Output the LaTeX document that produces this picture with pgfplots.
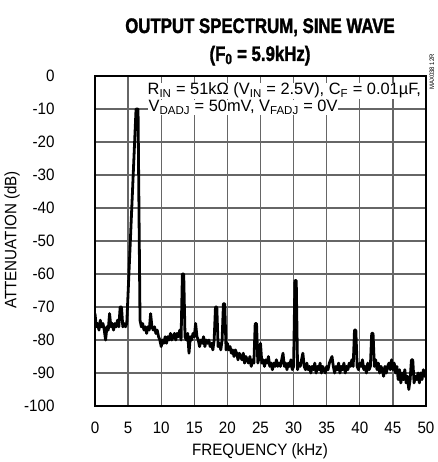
\documentclass[border=0pt]{standalone}
\usepackage{fontspec}
\setmainfont{Liberation Sans}
\newfontfamily\titlefont{Liberation Sans}[FakeStretch=0.8, BoldFeatures={FakeBold=1.5}]
\newfontfamily\condfont{Liberation Sans}[FakeStretch=0.92]
\usepackage{pgfplots}
\pgfplotsset{compat=1.18}
\usepackage{pgfplotstable}

\pgfplotstableread{
f a
0.0 -72
0.2 -76
0.4 -75
0.6 -77
0.8 -74
1.0 -76
1.2 -75
1.4 -77
1.6 -80
1.8 -76
2.0 -77
2.2 -72
2.4 -76
2.6 -75
2.8 -77
3.0 -75
3.2 -76
3.4 -74
3.6 -76
3.8 -70
4.0 -70
4.2 -76
4.4 -75
4.6 -76
4.8 -75
6.2 -10
6.5 -10
6.8 -74
7.0 -76
7.2 -75
7.4 -77
7.6 -76
7.8 -78
8.0 -76
8.2 -77
8.4 -72
8.6 -76
8.8 -77
9.0 -76
9.2 -78
9.4 -77
9.6 -79
9.8 -80
10.0 -82
10.2 -80
10.4 -81
10.6 -79
10.8 -81
11.0 -79
11.2 -80
11.4 -78
11.6 -80
11.8 -79
12.0 -78
12.2 -80
12.4 -78
12.6 -79
12.8 -77
13.0 -80
13.2 -60
13.4 -60
13.6 -79
13.8 -80
14.0 -78
14.2 -84
14.4 -79
14.6 -80
14.8 -78
15.0 -79
15.2 -75
15.4 -79
15.6 -80
15.8 -82
16.0 -80
16.2 -81
16.4 -79
16.6 -82
16.8 -80
17.0 -81
17.2 -80
17.4 -82
17.6 -81
17.8 -83
18.0 -80
18.2 -70
18.4 -70
18.6 -82
18.8 -81
19.0 -83
19.2 -80
19.4 -69
19.6 -69
19.8 -83
20.0 -81
20.2 -83
20.4 -82
20.6 -84
20.8 -83
21.0 -85
21.2 -83
21.4 -84
21.6 -86
21.8 -84
22.0 -85
22.2 -86
22.4 -84
22.6 -87
22.8 -85
23.0 -86
23.2 -87
23.4 -85
23.6 -88
23.8 -86
24.0 -87
24.2 -75
24.4 -75
24.6 -87
24.8 -85
25.0 -81
25.2 -87
25.4 -86
25.6 -88
25.8 -86
26.0 -87
26.2 -85
26.4 -88
26.6 -87
26.8 -89
27.0 -87
27.2 -88
27.4 -86
27.6 -88
27.8 -87
28.0 -88
28.2 -86
28.4 -84
28.6 -88
28.8 -87
29.0 -89
29.2 -87
29.4 -88
29.6 -86
29.8 -89
30.0 -88
30.2 -62
30.4 -62
30.6 -89
30.8 -87
31.0 -88
31.2 -86
31.4 -84
31.6 -88
31.8 -89
32.0 -87
32.2 -89
32.4 -88
32.6 -90
32.8 -88
33.0 -89
33.2 -87
33.4 -90
33.6 -88
33.8 -89
34.0 -87
34.2 -90
34.4 -88
34.6 -89
34.8 -90
35.0 -88
35.2 -89
35.4 -87
35.6 -86
35.8 -85
36.0 -88
36.2 -90
36.4 -88
36.6 -89
36.8 -87
37.0 -90
37.2 -88
37.4 -89
37.6 -87
37.8 -90
38.0 -88
38.2 -89
38.4 -87
38.6 -88
38.8 -86
39.0 -88
39.2 -77
39.4 -77
39.6 -88
39.8 -89
40.0 -87
40.2 -88
40.4 -86
40.6 -89
40.8 -88
41.0 -90
41.2 -87
41.4 -89
41.6 -88
41.8 -78
42.0 -78
42.2 -88
42.4 -86
42.6 -89
42.8 -87
43.0 -90
43.2 -88
43.4 -89
43.6 -91
43.8 -88
44.0 -90
44.2 -88
44.4 -87
44.6 -89
44.8 -86
45.0 -89
45.2 -87
45.4 -90
45.6 -88
45.8 -92
46.0 -89
46.2 -93
46.4 -90
46.6 -92
46.8 -89
47.0 -93
47.2 -91
47.4 -95
47.6 -92
47.8 -86
48.0 -86
48.2 -93
48.4 -91
48.6 -92
48.8 -90
49.0 -93
49.2 -90
49.4 -92
49.6 -89
49.8 -91
50.0 -90
}\spectrum

\begin{document}
\begin{tikzpicture}
\useasboundingbox (-95pt,-56pt) rectangle (342pt,406pt);
\begin{axis}[
    at={(0pt,0pt)}, anchor=south west,
    scale only axis,
    width=331pt, height=330pt,
    xmin=0, xmax=50, ymin=-100, ymax=0,
    xtick={0,5,...,50},
    ytick={-100,-90,...,0},
    grid=major,
    major grid style={line width=1.2pt, color=black!60},
    axis line style={line width=2.8pt},
    major tick length=0pt,
    ticklabel style={font=\condfont\fontsize{16.5}{16.5}\selectfont},
    /pgf/number format/assume math mode=true,
    xticklabel style={anchor=base, yshift=-27pt},
    yticklabel style={xshift=-37pt},
]
\addplot[black, line width=2.8pt, line join=round] table[x=f, y=a] {\spectrum};
\end{axis}

\node[anchor=base] at (165pt,373pt) {\titlefont\bfseries\fontsize{21}{21}\selectfont OUTPUT SPECTRUM, SINE WAVE};
\node[anchor=base] at (165pt,345pt) {\titlefont\bfseries\fontsize{21}{21}\selectfont (F\textsubscript{0} = 5.9kHz)};

\node[anchor=base west, fill=white, inner sep=0.5pt] at (52pt,311pt)
    {\fontsize{16.4}{16.4}\selectfont R\textsubscript{IN} = 51kΩ (V\textsubscript{IN} = 2.5V), C\textsubscript{F} = 0.01µF,};
\node[anchor=base west, fill=white, inner sep=0.5pt] at (53pt,294pt)
    {\fontsize{16.4}{16.4}\selectfont V\textsubscript{DADJ} = 50mV, V\textsubscript{FADJ} = 0V};

\node[rotate=90, anchor=center] at (-83pt,166pt) {\condfont\fontsize{16.5}{16.5}\selectfont ATTENUATION (dB)};
\node[anchor=base] at (165pt,-49pt) {\condfont\fontsize{16.5}{16.5}\selectfont FREQUENCY (kHz)};
\node[rotate=90, anchor=center] at (337pt,334pt) {\condfont\fontsize{6.5}{6.5}\selectfont MAX038 12R};
\end{tikzpicture}
\end{document}
